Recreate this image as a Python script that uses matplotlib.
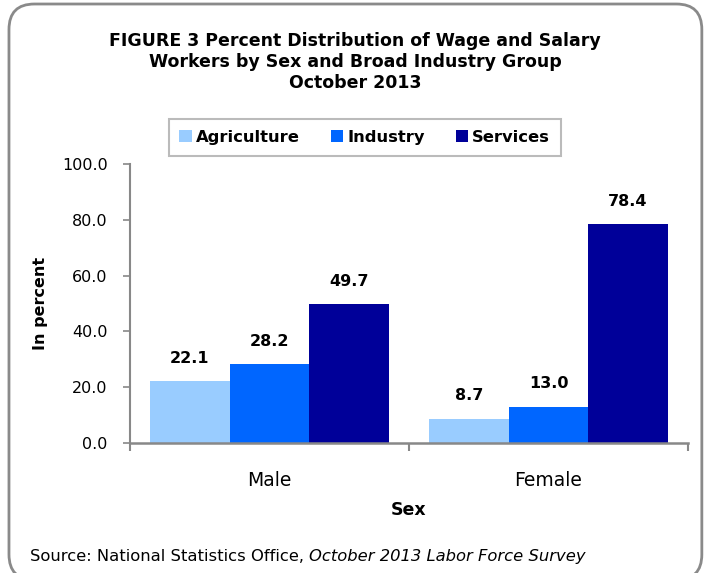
import numpy as np
import matplotlib.pyplot as plt
from matplotlib.patches import FancyBboxPatch

# data
sexes = ['Male', 'Female']
groups = ['Agriculture', 'Industry', 'Services']
agriculture = [22.1, 8.7]
industry = [28.2, 13.0]
services = [49.7, 78.4]
colors = ['#99CCFF', '#0066FF', '#000099']
yticks = [0, 20, 40, 60, 80, 100]

plt.rcParams['font.family'] = 'DejaVu Sans'

fig = plt.figure(figsize=(7.07, 5.73), dpi=100)
ax = fig.add_axes([0.1839, 0.2269, 0.7892, 0.4869])

# rounded border round the whole chart
border = FancyBboxPatch((0.0127, -0.012), 0.980, 1.005, boxstyle='round,pad=0,rounding_size=0.036',
                        transform=fig.transFigure, facecolor='none', edgecolor='#8a8a8a', lw=2,
                        mutation_aspect=707 / 573)
fig.patches.append(border)

x = np.arange(len(sexes))
w = 0.285
series = [agriculture, industry, services]
for i, vals in enumerate(series):
    bars = ax.bar(x + (i - 1) * w, vals, w, color=colors[i], label=groups[i])
    ax.bar_label(bars, labels=['%.1f' % v for v in vals], padding=11,
                 fontsize=11.5, fontweight='bold')

ax.set_xlim(-0.5, 1.5)
ax.set_ylim(0, 100)
ax.set_yticks(yticks)
ax.set_yticklabels(['%.1f' % t for t in yticks], fontsize=11.5)
ax.set_xticks(x)
ax.set_xticklabels(sexes, fontsize=13.5)
ax.tick_params(axis='x', length=0, pad=20)
ax.set_xticks([-0.5, 0.5, 1.5], minor=True)
ax.tick_params(axis='x', which='minor', length=6, color='#888888', direction='out', width=1.5)
ax.tick_params(axis='y', length=5, color='#888888', direction='out', width=1.2, pad=11)

for s in ['top', 'right']:
    ax.spines[s].set_visible(False)
ax.spines['left'].set_color('#888888')
ax.spines['left'].set_linewidth(1.5)
ax.spines['bottom'].set_color('#888888')
ax.spines['bottom'].set_linewidth(1.8)

ax.set_ylabel('In percent', fontsize=11.5, fontweight='bold', labelpad=10)
ax.set_xlabel('Sex', fontsize=12.5, fontweight='bold', labelpad=8)

fig.text(0.502, 0.892, 'FIGURE 3 Percent Distribution of Wage and Salary\n'
         'Workers by Sex and Broad Industry Group\nOctober 2013',
         ha='center', va='center', fontsize=12.5, fontweight='bold', linespacing=1.22)

leg = fig.legend(loc='center', bbox_to_anchor=(0.516, 0.76), ncol=3, frameon=True,
                 fancybox=False, edgecolor='#aaaaaa', handlelength=0.75, handleheight=0.75,
                 handletextpad=0.25, columnspacing=1.9, borderpad=0.65,
                 prop={'weight': 'bold', 'size': 11.8})
leg.get_frame().set_linewidth(1.5)

# source line, regular + italic parts
t1 = fig.text(0.042, 0.028, 'Source: National Statistics Office, ', fontsize=11.8, va='center')
fig.canvas.draw()
bb = t1.get_window_extent()
x2 = bb.x1 / fig.bbox.width
fig.text(x2, 0.028, 'October 2013 Labor Force Survey', fontsize=11.8, va='center', style='italic')

fig.savefig('out.png', dpi=100)
